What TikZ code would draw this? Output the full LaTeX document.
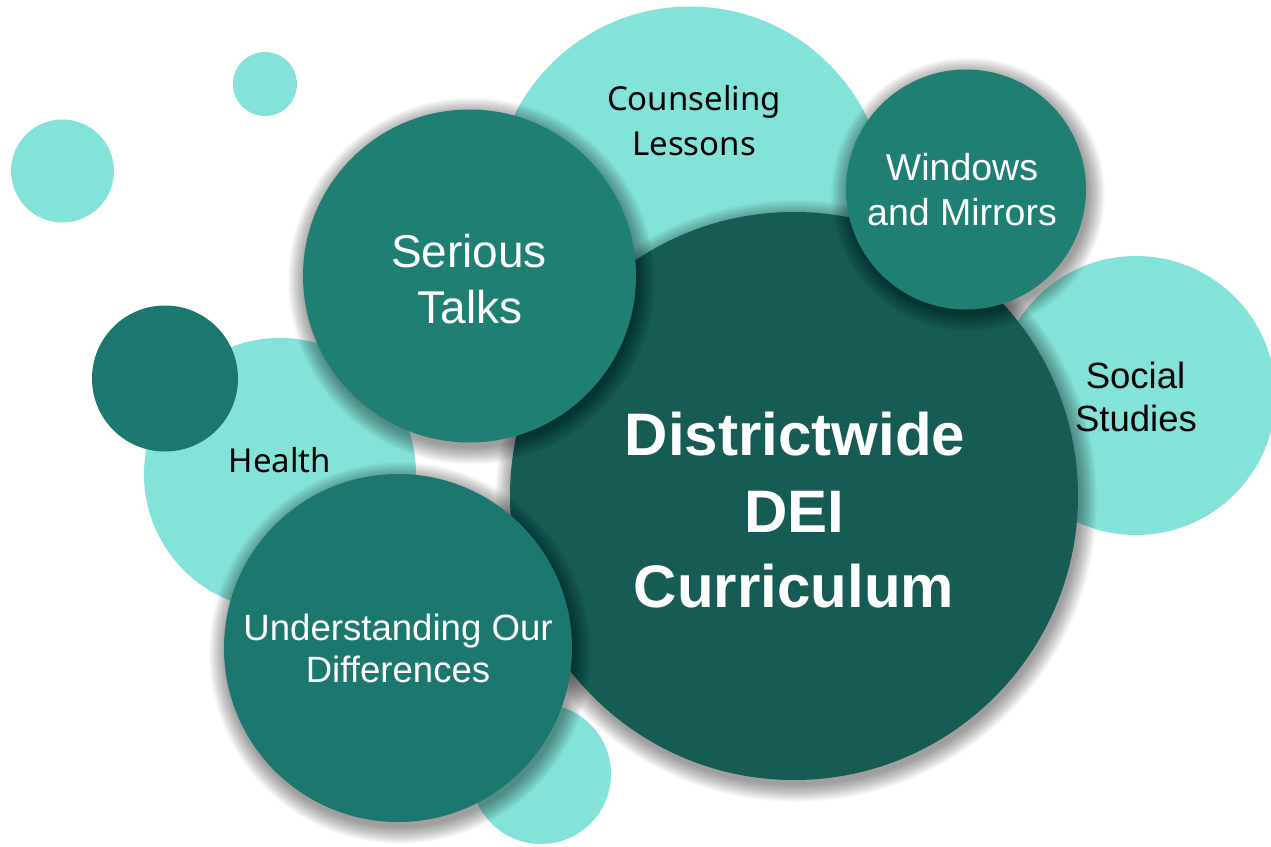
\documentclass[tikz,border=0pt]{standalone}
\usepackage{fontspec}
\setmainfont{Liberation Sans}
\newfontfamily\labelfont{Noto Sans}

\definecolor{mint}{HTML}{84E3D8}
\definecolor{tealmid}{HTML}{1F7F73}
\definecolor{tealsoft}{HTML}{1C786E}
\definecolor{tealdeep}{HTML}{165C55}

% soft drop shadow: stacked translucent discs, offset down and right
\newcommand\dropshadow[2]{%
  \foreach \k in {0,...,17}{%
    \fill[black, opacity=0.024] #1 ++(2,5) circle[radius={#2+17-\k}];}}

\begin{document}
\begin{tikzpicture}[x=1pt,y=-1pt,
  bubble/.style={circle, inner sep=0pt, outer sep=0pt, draw=none},
  lite/.style={bubble, fill=mint},
  darkdot/.style={bubble, fill=#1},
  txt/.style={anchor=base, inner sep=0pt, outer sep=0pt},
  darktxt/.style={txt, text=black, font=\labelfont\fontsize{33}{33}\selectfont},
  sstxt/.style={txt, text=black, font=\fontsize{36.5}{36.5}\selectfont},
  wtxt/.style={txt, text=white, font=\fontsize{#1}{#1}\selectfont},
  boldtxt/.style={txt, text=white, font=\bfseries\fontsize{60}{60}\selectfont}]

  \useasboundingbox (0,0) rectangle (1271,846);
  \fill[white] (0,0) rectangle (1271,846);

  % pale background bubbles
  \node[lite, minimum size=64pt]  (dotA)    at (265,84)    {};
  \node[lite, minimum size=103pt] (dotB)    at (62.5,171)  {};
  \node[lite, minimum size=393pt] (counsel) at (690,203)   {};
  \node[lite, minimum size=279pt] (social)  at (1136,395.5) {};
  \node[lite, minimum size=272pt] (health)  at (280,474)   {};
  \node[lite, minimum size=140pt] (dotC)    at (541,774)   {};

  % central bubble and the dark topic bubbles
  \dropshadow{(794,496)}{284}
  \node[darkdot=tealdeep, minimum size=568pt] (dei) at (794,496) {};
  \dropshadow{(469.5,276)}{166.5}
  \node[darkdot=tealmid, minimum size=333pt] (serious) at (469.5,276) {};
  \dropshadow{(966,189.5)}{120}
  \node[darkdot=tealmid, minimum size=240pt] (windows) at (966,189.5) {};
  \dropshadow{(398,648)}{174}
  \node[darkdot=tealsoft, minimum size=348pt] (understand) at (398,648) {};
  \node[darkdot=tealsoft, minimum size=146pt] (dotD) at (165,378.5) {};

  % labels on pale bubbles
  \node[darktxt] (counselA) at (694,110) {Counseling};
  \node[darktxt] (counselB) at (694,155) {Lessons};
  \node[darktxt] (healthA)  at (280,472.7) {Health};
  \node[sstxt]   (socialA)  at (1135.5,388) {Social};
  \node[sstxt]   (socialB)  at (1136,431.5) {Studies};

  % labels on dark bubbles
  \node[wtxt=37.5] (windowsA) at (962,180.7) {Windows};
  \node[wtxt=37.5] (windowsB) at (962,225)   {and Mirrors};
  \node[wtxt=46]   (seriousA) at (469,267)   {Serious};
  \node[wtxt=46]   (seriousB) at (470,323)   {Talks};
  \node[wtxt=36.6] (underA)   at (398,640)   {Understanding Our};
  \node[wtxt=36.6] (underB)   at (398,682.7) {Differences};

  \node[boldtxt] (deiA) at (795,455.6) {Districtwide};
  \node[boldtxt] (deiB) at (794,532)   {DEI};
  \node[boldtxt] (deiC) at (794,607.6) {Curriculum};
\end{tikzpicture}
\end{document}
